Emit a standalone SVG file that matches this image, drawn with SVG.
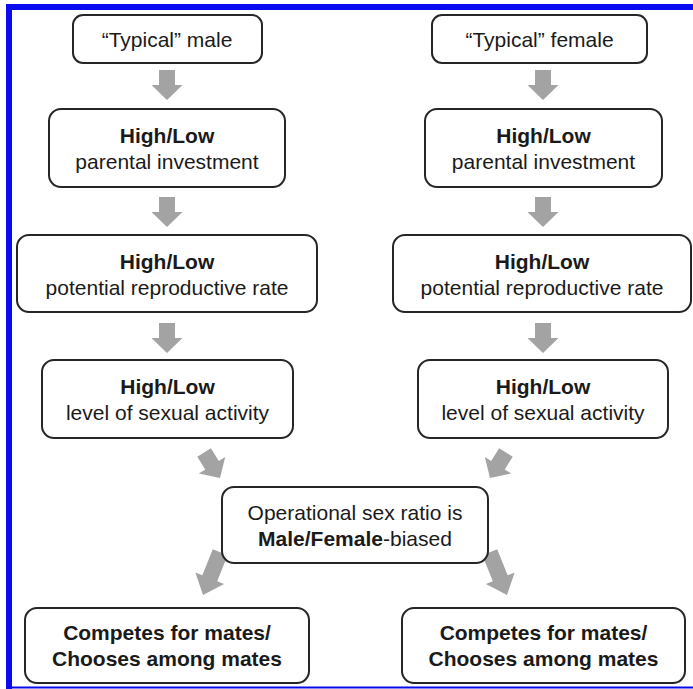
<svg xmlns="http://www.w3.org/2000/svg" width="693" height="689" viewBox="0 0 693 689">
<style>
.box{fill:#fff;stroke:#262626;stroke-width:2}
.t{font-family:"Liberation Sans",Arial,sans-serif;font-size:21px;fill:#1a1a1a;text-anchor:middle}
.b{font-weight:bold}
.arr{fill:#a3a3a3}
.frame{fill:#0a0af0}
</style>
<defs>
<path id="a30" d="M-8,-30 H8 V-15 H15.5 L0,0 L-15.5,-15 H-8 Z"/>
<path id="a46" d="M-8,-46 H8 V-18 H15.5 L0,0 L-15.5,-18 H-8 Z"/>
</defs>
<rect width="693" height="689" fill="#fff"/>
<g id="frame">
<rect class="frame" x="6" y="4" width="687" height="6"/>
<rect class="frame" x="6" y="4" width="6" height="685"/>
<rect class="frame" x="6" y="686.5" width="687" height="2"/>
</g>
<g id="connectors" class="arr">
<use href="#a30" transform="translate(167,100)"/>
<use href="#a30" transform="translate(167,227)"/>
<use href="#a30" transform="translate(167,353)"/>
<use href="#a30" transform="translate(543,100)"/>
<use href="#a30" transform="translate(543,227)"/>
<use href="#a30" transform="translate(543,353)"/>
<use href="#a30" transform="translate(220,478) rotate(-32)"/>
<use href="#a30" transform="translate(490,478) rotate(32)"/>
<use href="#a46" transform="translate(203,595) rotate(22)"/>
<use href="#a46" transform="translate(507,595) rotate(-22)"/>
</g>
<g id="typical-male">
<rect class="box" x="73" y="15" width="189" height="48" rx="10"/>
<text class="t" x="167" y="46.5">“Typical” male</text>
</g>
<g id="typical-female">
<rect class="box" x="432" y="15" width="215" height="48" rx="10"/>
<text class="t" x="539.5" y="46.5">“Typical” female</text>
</g>
<g id="male-investment">
<rect class="box" x="49" y="109" width="236" height="78" rx="12"/>
<text class="t b" x="167" y="143">High/Low</text>
<text class="t" x="167" y="169">parental investment</text>
</g>
<g id="female-investment">
<rect class="box" x="425" y="109" width="237" height="78" rx="12"/>
<text class="t b" x="543.5" y="143">High/Low</text>
<text class="t" x="543.5" y="169">parental investment</text>
</g>
<g id="male-rate">
<rect class="box" x="17" y="235" width="300" height="77" rx="12"/>
<text class="t b" x="167" y="269">High/Low</text>
<text class="t" x="167" y="295">potential reproductive rate</text>
</g>
<g id="female-rate">
<rect class="box" x="393" y="235" width="298" height="77" rx="12"/>
<text class="t b" x="542" y="269">High/Low</text>
<text class="t" x="542" y="295">potential reproductive rate</text>
</g>
<g id="male-activity">
<rect class="box" x="42" y="360" width="251" height="78" rx="12"/>
<text class="t b" x="167.5" y="394">High/Low</text>
<text class="t" x="167.5" y="420">level of sexual activity</text>
</g>
<g id="female-activity">
<rect class="box" x="418" y="360" width="250" height="78" rx="12"/>
<text class="t b" x="543" y="394">High/Low</text>
<text class="t" x="543" y="420">level of sexual activity</text>
</g>
<g id="sex-ratio">
<rect class="box" x="222" y="487" width="266" height="76" rx="12"/>
<text class="t" x="355" y="520">Operational sex ratio is</text>
<text class="t" x="355" y="546"><tspan class="b">Male/Female</tspan>-biased</text>
</g>
<g id="male-outcome">
<rect class="box" x="25" y="608" width="284" height="75" rx="12"/>
<text class="t b" x="167" y="640">Competes for mates/</text>
<text class="t b" x="167" y="666">Chooses among mates</text>
</g>
<g id="female-outcome">
<rect class="box" x="402" y="608" width="283" height="75" rx="12"/>
<text class="t b" x="543.5" y="640">Competes for mates/</text>
<text class="t b" x="543.5" y="666">Chooses among mates</text>
</g>
</svg>
